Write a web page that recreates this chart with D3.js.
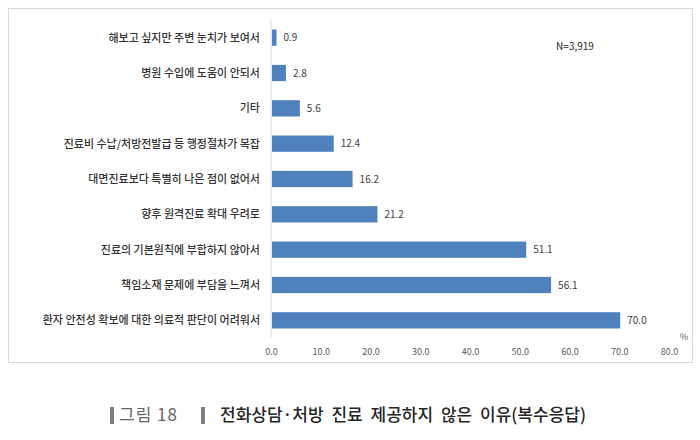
<!DOCTYPE html>
<html><head><meta charset="utf-8">
<script src="https://cdn.jsdelivr.net/npm/d3@7"></script>
<style>body{margin:0;background:#fff}</style>
</head><body>
<script>
const categories = ["해보고 싶지만 주변 눈치가 보여서", "병원 수입에 도움이 안되서", "기타",
  "진료비 수납/처방전발급 등 행정절차가 복잡", "대면진료보다 특별히 나은 점이 없어서",
  "향후 원격진료 확대 우려로", "진료의 기본원칙에 부합하지 않아서",
  "책임소재 문제에 부담을 느껴서", "환자 안전성 확보에 대한 의료적 판단이 어려워서"]
const values = [0.9, 2.8, 5.6, 12.4, 16.2, 21.2, 51.1, 56.1, 70.0]
const xTicks = [0, 10, 20, 30, 40, 50, 60, 70, 80]

const font = "'Noto Sans CJK KR', 'Noto Sans', sans-serif"
const svg = d3.select("body").append("svg").attr("width", 700).attr("height", 440)
  .style("font-family", font)

svg.append("rect").attr("x", 8.5).attr("y", 8.5).attr("width", 684).attr("height", 354)
  .attr("fill", "none").attr("stroke", "#d9d9d9")

const x = d3.scaleLinear().domain([0, 80]).range([271, 669])
const y = d3.scaleBand().domain(categories).range([20, 338]).paddingInner(0.54).paddingOuter(0.27)

// vertical axis line
svg.append("line").attr("x1", x(0)).attr("x2", x(0)).attr("y1", 20).attr("y2", 338)
  .attr("stroke", "#d9d9d9")

svg.selectAll(".bar").data(values).enter().append("rect")
  .attr("x", x(0) + 1)
  .attr("y", (d, i) => y(categories[i]))
  .attr("width", d => x(d) - x(0))
  .attr("height", y.bandwidth())
  .attr("fill", "#4f81bd")

svg.selectAll(".val").data(values).enter().append("text")
  .attr("x", d => x(d) + 8)
  .attr("y", (d, i) => y(categories[i]) + y.bandwidth() / 2)
  .attr("dy", "0.35em").attr("font-size", 10).attr("fill", "#404040")
  .text(d => d.toFixed(1))

svg.selectAll(".cat").data(categories).enter().append("text")
  .attr("x", 260)
  .attr("y", d => y(d) + y.bandwidth() / 2)
  .attr("dy", "0.35em").attr("text-anchor", "end")
  .attr("font-size", 11).attr("font-weight", 500).attr("fill", "#333")
  .text(d => d)

const xaxis = d3.axisBottom(x).tickValues(xTicks).tickFormat(d3.format(".1f")).tickSize(0).tickPadding(8)
const g = svg.append("g").attr("transform", "translate(0,341)").call(xaxis)
g.select(".domain").remove()
g.selectAll("text").attr("font-size", 9).attr("fill", "#595959").style("font-family", font)

svg.append("text").attr("x", 684).attr("y", 340).attr("text-anchor", "middle")
  .attr("font-size", 9).attr("fill", "#595959").text("%")
svg.append("text").attr("x", 575).attr("y", 50).attr("text-anchor", "middle")
  .attr("font-size", 10).attr("fill", "#262626").text("N=3,919")

// caption
const cap = svg.append("g")
cap.append("rect").attr("x", 110).attr("y", 407).attr("width", 4).attr("height", 17).attr("fill", "#7f7f7f")
cap.append("text").attr("x", 119).attr("y", 421).attr("font-size", 17).attr("fill", "#666")
  .attr("letter-spacing", 1).text("그림 18")
cap.append("rect").attr("x", 201).attr("y", 407).attr("width", 4).attr("height", 17).attr("fill", "#7f7f7f")
cap.append("text").attr("x", 220).attr("y", 421).attr("font-size", 17).attr("font-weight", 500)
  .attr("fill", "#262626").attr("word-spacing", 4)
  .text("전화상담·처방 진료 제공하지 않은 이유(복수응답)")
</script>
</body></html>
